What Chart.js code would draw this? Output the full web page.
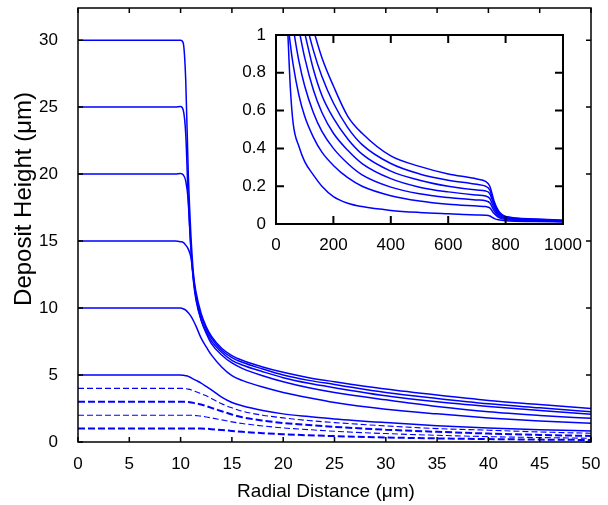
<!DOCTYPE html>
<html>
<head>
<meta charset="utf-8">
<script src="https://cdn.jsdelivr.net/npm/chart.js@4/dist/chart.umd.min.js"></script>
<style>
  html, body { margin: 0; padding: 0; background: #fff; }
  #wrap { position: relative; width: 608px; height: 505px; }
  #main { position: absolute; left: 0; top: 0; }
  #inset { position: absolute; left: 230px; top: 25px; }
</style>
</head>
<body>
<div id="wrap">
  <canvas id="main" width="608" height="505"></canvas>
  <canvas id="inset" width="375" height="240"></canvas>
</div>
<script>
// main plot: radial distance (um)
const mainX = [0, 2, 4, 6, 8, 9, 9.5, 10, 10.25, 10.5, 10.75, 11, 11.25, 11.5, 12, 12.5, 13, 14, 15, 16, 18, 20, 22.5, 25, 30, 35, 40, 45, 50];
// deposit heights (um), solid curves
const h30 = [30, 30, 30, 30, 30, 30, 30, 30, 29.8, 27, 20, 15.5, 12.6, 11.2, 9.6, 8.6, 7.9, 7.0, 6.45, 6.1, 5.6, 5.2, 4.8, 4.5, 3.95, 3.5, 3.1, 2.8, 2.5];
const h25 = [25, 25, 25, 25, 25, 25, 25, 25.05, 24.8, 23, 18, 14.5, 12.2, 10.9, 9.4, 8.45, 7.75, 6.85, 6.3, 5.95, 5.45, 5.0, 4.6, 4.3, 3.7, 3.25, 2.85, 2.55, 2.26];
const h20 = [20, 20, 20, 20, 20, 20, 20, 20.05, 19.95, 19.5, 18, 14.5, 12, 10.6, 9.1, 8.25, 7.55, 6.7, 6.1, 5.75, 5.25, 4.8, 4.38, 4.05, 3.45, 3.0, 2.65, 2.35, 2.07];
const h15 = [15, 15, 15, 15, 15, 15, 15, 14.95, 14.9, 14.7, 14.4, 13.8, 12.3, 10.8, 9.1, 8.1, 7.35, 6.5, 5.9, 5.5, 4.95, 4.5, 4.05, 3.7, 3.15, 2.65, 2.25, 1.98, 1.77];
const h10 = [10, 10, 10, 10, 10, 10, 10, 10, 9.95, 9.85, 9.65, 9.4, 9.05, 8.65, 7.75, 7.1, 6.5, 5.6, 4.95, 4.6, 4.1, 3.7, 3.3, 2.95, 2.45, 2.1, 1.8, 1.57, 1.4];
const h5 = [5, 5, 5, 5, 5, 5, 5, 5, 4.98, 4.95, 4.9, 4.8, 4.7, 4.6, 4.4, 4.15, 3.9, 3.35, 2.95, 2.7, 2.35, 2.1, 1.9, 1.72, 1.45, 1.22, 1.05, 0.92, 0.82];
// dashed curves
const h4 = [4, 4, 4, 4, 4, 4, 4, 4, 4, 3.98, 3.95, 3.9, 3.82, 3.75, 3.6, 3.45, 3.25, 2.85, 2.55, 2.3, 2.0, 1.8, 1.6, 1.45, 1.2, 1.0, 0.88, 0.75, 0.65];
const h3 = [3, 3, 3, 3, 3, 3, 3, 3, 3, 3, 2.98, 2.95, 2.92, 2.88, 2.8, 2.68, 2.55, 2.3, 2.05, 1.85, 1.6, 1.42, 1.27, 1.13, 0.92, 0.76, 0.63, 0.53, 0.45];
const h2 = [2, 2, 2, 2, 2, 2, 2, 2, 2, 2, 2, 2, 1.99, 1.97, 1.93, 1.87, 1.8, 1.65, 1.5, 1.38, 1.2, 1.05, 0.92, 0.8, 0.63, 0.5, 0.4, 0.33, 0.28];
const h1 = [1, 1, 1, 1, 1, 1, 1, 1, 1, 1, 1, 1, 1, 1, 1, 0.99, 0.96, 0.9, 0.83, 0.76, 0.66, 0.58, 0.5, 0.44, 0.34, 0.27, 0.22, 0.18, 0.15];

// inset: longer range
const insetX = [20, 40, 50, 60, 80, 100, 130, 160, 200, 250, 300, 400, 500, 600, 700, 730, 745, 760, 775, 800, 900, 1000];
const c7 = [3.0, 2.2, 1.92, 1.7, 1.4, 1.2, 1.03, 0.88, 0.73, 0.57, 0.48, 0.36, 0.305, 0.265, 0.238, 0.225, 0.2, 0.12, 0.07, 0.04, 0.027, 0.02];
const c6 = [2.8, 2.0, 1.72, 1.5, 1.25, 1.1, 0.92, 0.78, 0.64, 0.51, 0.42, 0.32, 0.265, 0.232, 0.21, 0.2, 0.18, 0.11, 0.065, 0.038, 0.025, 0.019];
const c5 = [2.5, 1.75, 1.52, 1.35, 1.13, 1.01, 0.82, 0.68, 0.56, 0.45, 0.37, 0.28, 0.232, 0.2, 0.18, 0.175, 0.16, 0.1, 0.058, 0.035, 0.023, 0.017];
const c4 = [2.3, 1.55, 1.35, 1.2, 1.03, 0.88, 0.71, 0.59, 0.48, 0.39, 0.32, 0.24, 0.195, 0.17, 0.153, 0.148, 0.135, 0.085, 0.05, 0.032, 0.021, 0.016];
const c3 = [2.0, 1.3, 1.15, 1.04, 0.86, 0.73, 0.59, 0.49, 0.4, 0.32, 0.26, 0.195, 0.16, 0.14, 0.127, 0.123, 0.112, 0.07, 0.043, 0.028, 0.019, 0.015];
const c2 = [1.7, 1.1, 0.95, 0.84, 0.68, 0.57, 0.46, 0.38, 0.31, 0.245, 0.2, 0.15, 0.122, 0.105, 0.095, 0.092, 0.085, 0.055, 0.035, 0.024, 0.017, 0.013];
const c1 = [1.6, 1.05, 0.72, 0.53, 0.41, 0.33, 0.26, 0.2, 0.145, 0.11, 0.092, 0.072, 0.061, 0.054, 0.048, 0.046, 0.042, 0.03, 0.022, 0.017, 0.013, 0.011];

const BLUE = '#0000ff';
const FONT = '"Liberation Sans", Arial, Helvetica, sans-serif';

function pts(xs, ys) {
  return xs.map((x, i) => ({x: x, y: ys[i]}));
}

function line(xs, ys, width, dash) {
  return {
    data: pts(xs, ys),
    borderColor: BLUE,
    borderWidth: width,
    borderDash: dash || [],
    pointRadius: 0,
    fill: false,
    cubicInterpolationMode: 'monotone'
  };
}

// plain numbers, no thousands comma
const plain = v => String(Math.round(v * 100) / 100);

// box round the plot with ticks pointing inward
const frame = {
  id: 'frame',
  afterDatasetsDraw(chart, args, opts) {
    const {ctx, chartArea: a} = chart;
    const x = chart.scales.x, y = chart.scales.y;
    ctx.save();
    ctx.strokeStyle = '#000';
    ctx.lineWidth = opts.width;
    ctx.strokeRect(a.left, a.top, a.right - a.left, a.bottom - a.top);
    const len = opts.tick;
    ctx.beginPath();
    x.ticks.forEach(t => {
      const px = x.getPixelForValue(t.value);
      ctx.moveTo(px, a.bottom); ctx.lineTo(px, a.bottom - len);
      ctx.moveTo(px, a.top); ctx.lineTo(px, a.top + len);
    });
    y.ticks.forEach(t => {
      const py = y.getPixelForValue(t.value);
      ctx.moveTo(a.left, py); ctx.lineTo(a.left + len, py);
      ctx.moveTo(a.right, py); ctx.lineTo(a.right - len, py);
    });
    ctx.stroke();
    ctx.restore();
  }
};

const titles = {
  id: 'titles',
  afterDraw(chart) {
    const ctx = chart.ctx;
    ctx.save();
    ctx.fillStyle = '#000';
    ctx.textAlign = 'center';
    ctx.textBaseline = 'middle';
    ctx.font = '19px ' + FONT;
    ctx.fillText('Radial Distance (\u03bcm)', 326, 492);
    ctx.font = '24px ' + FONT;
    ctx.translate(24, 199);
    ctx.rotate(-Math.PI / 2);
    ctx.fillText('Deposit Height (\u03bcm)', 0, 0);
    ctx.restore();
  }
};

// keep the plot area where the layout puts it (no extra room for end labels)
function fitX(h) {
  return s => { s.height = h; s.paddingLeft = 0; s.paddingRight = 0; };
}
function fitY(w) {
  return s => { s.width = w; s.paddingTop = 0; s.paddingBottom = 0; };
}

new Chart(document.getElementById('main'), {
  type: 'line',
  data: {
    datasets: [
      line(mainX, h30, 1.5),
      line(mainX, h25, 1.5),
      line(mainX, h20, 1.5),
      line(mainX, h15, 1.5),
      line(mainX, h10, 1.5),
      line(mainX, h5, 1.5),
      line(mainX, h4, 1.1, [6, 3]),
      line(mainX, h3, 2, [7, 3]),
      line(mainX, h2, 1.1, [6, 3]),
      line(mainX, h1, 2, [7, 3])
    ]
  },
  options: {
    responsive: false,
    animation: false,
    layout: { padding: { left: 0, right: 17, top: 8, bottom: 0 } },
    plugins: {
      legend: { display: false },
      tooltip: { enabled: false },
      frame: { width: 1.5, tick: 5 }
    },
    scales: {
      x: {
        type: 'linear', min: 0, max: 50,
        grid: { display: false, drawTicks: false },
        border: { display: false },
        ticks: { stepSize: 5, color: '#000', padding: 12, maxRotation: 0, callback: plain, font: { family: FONT, size: 17 } },
        afterFit: fitX(63)
      },
      y: {
        type: 'linear', min: 0, max: 32.4,
        grid: { display: false, drawTicks: false },
        border: { display: false },
        ticks: { stepSize: 5, includeBounds: false, color: '#000', padding: 20, callback: plain, font: { family: FONT, size: 17 } },
        afterFit: fitY(78)
      }
    }
  },
  plugins: [frame, titles]
});

new Chart(document.getElementById('inset'), {
  type: 'line',
  data: {
    datasets: [
      line(insetX, c1, 1.5),
      line(insetX, c2, 1.5),
      line(insetX, c3, 1.5),
      line(insetX, c4, 1.5),
      line(insetX, c5, 1.5),
      line(insetX, c6, 1.5),
      line(insetX, c7, 1.5)
    ]
  },
  options: {
    responsive: false,
    animation: false,
    layout: { padding: { left: 0, right: 42, top: 10, bottom: 0 } },
    plugins: {
      legend: { display: false },
      tooltip: { enabled: false },
      frame: { width: 2, tick: 8 }
    },
    scales: {
      x: {
        type: 'linear', min: 0, max: 1000,
        grid: { display: false, drawTicks: false },
        border: { display: false },
        ticks: { stepSize: 200, color: '#000', padding: 11, maxRotation: 0, callback: plain, font: { family: FONT, size: 17 } },
        afterFit: fitX(41)
      },
      y: {
        type: 'linear', min: 0, max: 1,
        grid: { display: false, drawTicks: false },
        border: { display: false },
        ticks: { stepSize: 0.2, color: '#000', padding: 10, callback: plain, font: { family: FONT, size: 17 } },
        afterFit: fitY(46)
      }
    }
  },
  plugins: [frame]
});
</script>
</body>
</html>
